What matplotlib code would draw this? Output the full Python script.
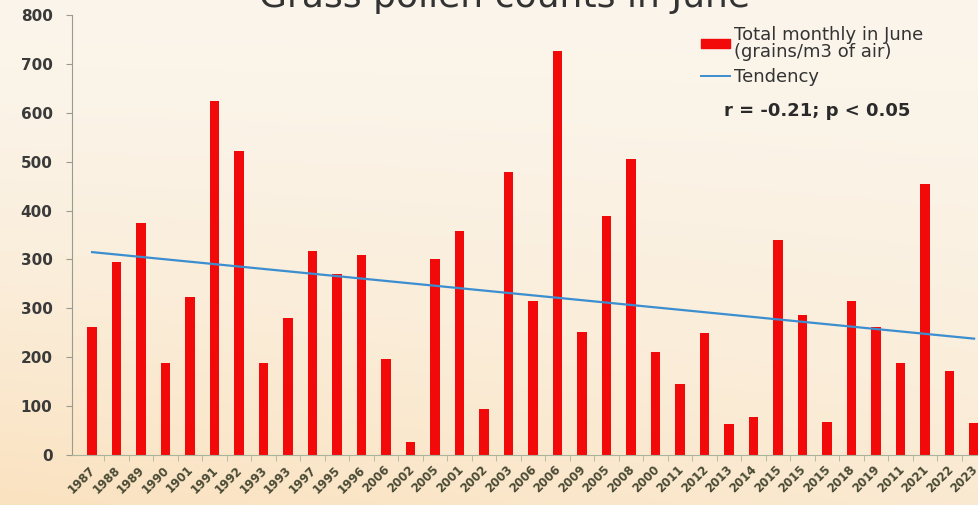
# grass pollen in June - bar chart with tendency line
import numpy as np
import matplotlib
matplotlib.use('Agg')
import matplotlib.pyplot as plt
import matplotlib.transforms as mtransforms
from matplotlib.patches import Patch
from matplotlib.lines import Line2D

plt.rcParams['font.family'] = ['DejaVu Sans']

# data (in axis units) --------------------------------------------------
years = ['1987', '1988', '1989', '1990', '1901', '1991', '1992', '1993', '1993',
         '1997', '1995', '1996', '2006', '2002', '2005', '2001', '2002', '2003',
         '2006', '2006', '2009', '2005', '2008', '2000', '2011', '2012', '2013',
         '2014', '2015', '2015', '2015', '2018', '2019', '2011', '2021', '2022',
         '2023']
pollen = [262, 395, 474, 188, 323, 724, 622, 188, 280, 417, 370, 409, 196, 27,
          401, 458, 94, 579, 315, 826, 252, 489, 605, 211, 145, 249, 63, 78,
          440, 286, 67, 315, 262, 188, 554, 172, 65]
tendency = [415, 238]   # start / end value of the trend line

ytick_vals = [0, 100, 200, 300, 400, 500, 600, 700, 800, 900]
ytick_labels = ['0', '100', '200', '300', '300', '400', '500', '600', '700', '800']

title = 'Grass pollen counts in June'

# figure ----------------------------------------------------------------
fig = plt.figure(figsize=(9.79, 5.05), dpi=100)

# cream/peach background gradient
bg = fig.add_axes([0, 0, 1, 1], zorder=-10)
grad = np.linspace(0, 1, 256)[:, None] * np.ones((1, 256))
horiz = np.linspace(1, 0.6, 256)[None, :]
top_c = np.array([251, 245, 235]) / 255
bot_c = np.array([250, 226, 192]) / 255
w = (grad ** 1.5) * horiz
img = top_c[None, None, :] * (1 - w[..., None]) + bot_c[None, None, :] * w[..., None]
bg.imshow(img, aspect='auto', extent=[0, 1, 0, 1], origin='upper')
bg.axis('off')

ax = fig.add_axes([72 / 979, 50 / 505, 907 / 979, 440 / 505])
ax.patch.set_alpha(0)

x = np.arange(len(years))
ax.bar(x, pollen, width=0.38, color='#f20a0a', zorder=2)
ax.plot([x[0], x[-1]], tendency, color='#3b8ed0', lw=1.6, zorder=3)

ax.set_xlim(-0.82, len(years) - 1 + 0.2)
ax.set_ylim(0, 900)

for s in ['top', 'right']:
    ax.spines[s].set_visible(False)
ax.spines['left'].set_color('#9a9a90')
ax.spines['bottom'].set_color('#a8b49c')

ax.set_yticks(ytick_vals)
ax.set_yticklabels(ytick_labels, fontsize=11, fontweight='bold', color='#3a3a3a')
ax.tick_params(axis='y', length=4, color='#9a9a90', pad=10)

ax.set_xticks(x)
ax.set_xticklabels(years, rotation=45, ha='right', va='top', rotation_mode='anchor',
                   fontsize=8.5, fontweight='bold', color='#4a4a34')
ax.tick_params(axis='x', length=0, pad=6)
shift = mtransforms.ScaledTranslation(-3 / 100, 0, fig.dpi_scale_trans)
for lab in ax.get_xticklabels():
    lab.set_transform(lab.get_transform() + shift)
ax.set_xticks(x[:-1] + 0.5, minor=True)
ax.tick_params(axis='x', which='minor', length=4, color='#a8b49c')

# title sits partly above the top edge, as in the reference
fig.text(0.515, 1 - 7 / 505, title, ha='center', va='baseline',
         fontsize=26, color='#333333')

handles = [Patch(color='#f20a0a'), Line2D([], [], color='#3b8ed0', lw=1.4)]
labels = ['Total monthly in June\n(grains/m3 of air)', 'Tendency']
leg = fig.legend(handles, labels, loc='upper left', bbox_to_anchor=(701 / 979, 1 - 26 / 505),
                 frameon=False, prop={'size': 13}, handlelength=1.6, handleheight=0.4,
                 handletextpad=0.25, labelspacing=0.4, borderaxespad=0, borderpad=0)
for t in leg.get_texts():
    t.set_color('#333333')
    t.set_linespacing(0.9)

fig.text(817 / 979, 1 - 111 / 505, 'r = -0.21; p < 0.05', ha='center', va='center',
         fontsize=13, fontweight='bold', color='#2a2a2a')

fig.savefig('out.png', dpi=100)
